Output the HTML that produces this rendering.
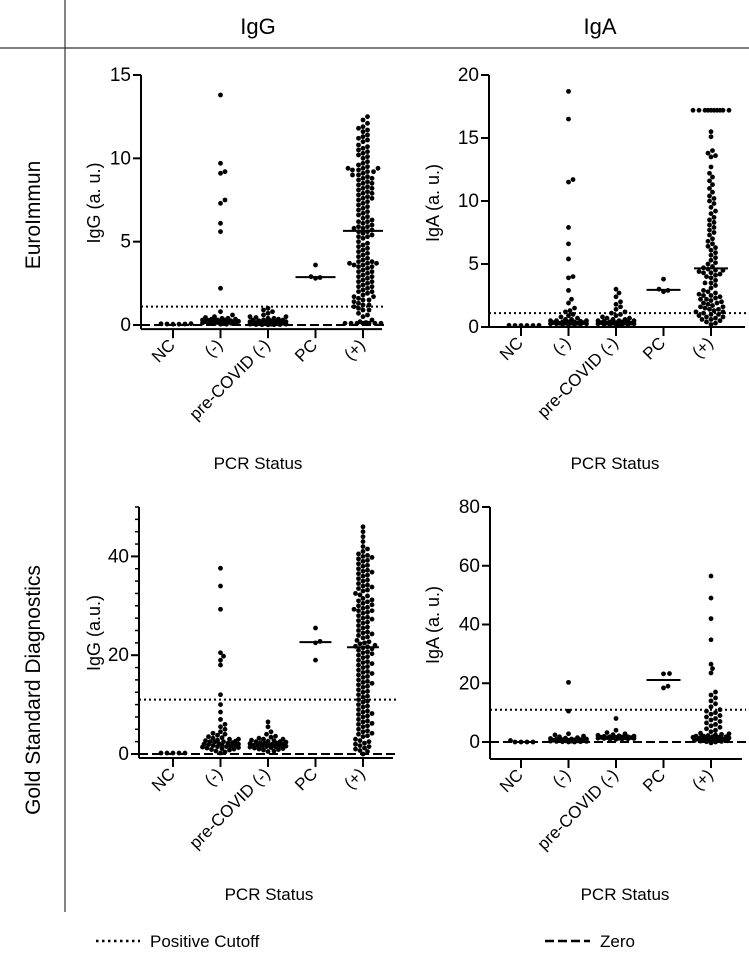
<!DOCTYPE html>
<html><head><meta charset="utf-8">
<style>
html,body{margin:0;padding:0;background:#fff;}
svg{display:block;font-family:"Liberation Sans",sans-serif;}
</style></head>
<body>
<svg id="fig" width="749" height="960" viewBox="0 0 749 960">
  <line x1="65" y1="0" x2="65" y2="912" stroke="#333" stroke-width="1.2"/>
  <line x1="0" y1="48" x2="749" y2="48" stroke="#333" stroke-width="1.2"/>
  <text x="258" y="34" font-size="22" text-anchor="middle">IgG</text>
  <text x="600" y="34" font-size="22" text-anchor="middle">IgA</text>
  <text transform="translate(40,215) rotate(-90)" font-size="21" text-anchor="middle">EuroImmun</text>
  <text transform="translate(40,690) rotate(-90)" font-size="21" text-anchor="middle">Gold Standard Diagnostics</text>
  <g>
    <line x1="96" y1="941" x2="140" y2="941" stroke="#000" stroke-width="2.5" stroke-dasharray="2.5,3.5"/>
    <text x="150" y="947" font-size="17">Positive Cutoff</text>
    <line x1="545" y1="941" x2="590" y2="941" stroke="#000" stroke-width="2.5" stroke-dasharray="9,4"/>
    <text x="600" y="947" font-size="17">Zero</text>
  </g>
</svg>
<script>
const categories = ["NC","(-)","pre-COVID (-)","PC","(+)"];

// Panel A: EuroImmun IgG
const euIgG_NC = [0.05,0.07,0.06,0.08,0.05,0.06];
const euIgG_neg = [13.8,9.7,9.2,9.1,7.5,7.3,6.1,5.6,2.2,0.8,0.6,0.5,0.45,0.4,0.4,0.35,0.35,0.3,0.3,0.3,0.28,0.25,0.25,0.22,0.2,0.2,0.2,0.18,0.15,0.15,0.15,0.12,0.1,0.1,0.1,0.08,0.05,0.05];
const euIgG_pre = [1.0,0.9,0.8,0.7,0.6,0.5,0.5,0.45,0.4,0.4,0.35,0.3,0.3,0.3,0.25,0.25,0.2,0.2,0.2,0.2,0.15,0.15,0.15,0.12,0.1,0.1,0.1,0.1,0.08,0.08,0.05,0.05,0.05,0.03,0.03,0.02,0.02,0.01];
const euIgG_PC = [2.8,2.85,2.9,3.6];
const euIgG_pos = [12.5,12.3,12.1,11.9,11.8,11.6,11.4,11.3,11.1,11.0,10.8,10.7,10.5,10.4,10.3,10.1,10.0,9.8,9.7,9.5,9.4,9.4,9.3,9.2,9.1,9.0,8.9,8.8,8.7,8.6,8.5,8.4,8.3,8.2,8.1,8.0,7.9,7.8,7.7,7.6,7.5,7.4,7.3,7.2,7.0,6.9,6.8,6.6,6.5,6.4,6.3,6.2,6.1,6.0,5.9,5.8,5.8,5.7,5.6,5.5,5.4,5.3,5.2,5.0,4.9,4.8,4.6,4.5,4.4,4.2,4.1,4.0,3.9,3.8,3.7,3.7,3.6,3.5,3.4,3.3,3.2,3.1,3.0,2.9,2.8,2.7,2.6,2.5,2.4,2.3,2.2,2.1,2.0,1.9,1.8,1.7,1.6,1.5,1.4,1.3,1.2,1.1,1.0,0.9,0.7,0.5,0.3,0.2,0.15,0.1,0.1,0.1,0.1,0.1,0.1,0.1,
  11.7,11.2,10.6,10.2,9.6,9.3,9.0,8.8,8.5,8.2,7.9,7.6,7.1,6.7,6.2,5.9,5.6,5.3,4.7,4.3,3.8,3.5,3.2,2.9,2.6,2.3,2.0,1.7,1.5,1.2,0.9,0.6,3.7,3.6,9.4,9.2];

// Panel B: EuroImmun IgA
const euIgA_NC = [0.12,0.12,0.13,0.12,0.12,0.13];
const euIgA_neg = [18.7,16.5,11.7,11.5,7.9,6.6,5.4,4.0,3.9,2.9,2.2,1.9,1.5,1.3,1.2,1.0,0.9,0.8,0.7,0.6,0.6,0.5,0.5,0.5,0.45,0.4,0.4,0.4,0.35,0.35,0.3,0.3,0.3,0.3,0.25,0.25,0.25,0.2,0.2,0.2,0.2];
const euIgA_pre = [3.0,2.7,2.4,2.0,1.8,1.6,1.4,1.2,1.1,1.0,0.9,0.8,0.7,0.7,0.6,0.6,0.5,0.5,0.5,0.45,0.4,0.4,0.4,0.35,0.35,0.3,0.3,0.3,0.3,0.25,0.25,0.25,0.2,0.2,0.2,0.2,0.15];
const euIgA_PC = [2.8,2.9,3.0,3.8];
const euIgA_pos = [17.2,17.2,17.2,17.2,17.2,17.2,17.2,17.2,17.2,17.2,15.5,15.1,14.0,13.8,13.6,13.5,12.7,12.2,11.9,11.6,11.3,11.0,10.7,10.4,10.2,10.0,9.8,9.5,9.2,9.0,8.7,8.5,8.3,8.1,7.9,7.7,7.5,7.3,7.0,6.8,6.6,6.4,6.3,6.1,5.9,5.7,5.5,5.3,5.1,5.0,4.8,4.7,4.6,4.5,4.4,4.3,4.2,4.1,4.0,3.9,3.7,3.5,3.3,3.1,2.9,2.8,2.7,2.6,2.5,2.4,2.3,2.2,2.1,2.0,1.9,1.8,1.7,1.6,1.5,1.4,1.3,1.2,1.1,1.0,0.9,0.8,0.7,0.6,0.5,0.4,0.3,0.2,1.6,1.4,1.2,1.0,0.8,0.6,2.5,2.2,1.9,3.5,4.3,4.5];

// Panel C: GSD IgG
const gsIgG_NC = [0.2,0.2,0.2,0.2,0.2];
const gsIgG_neg = [37.6,34.0,29.3,20.5,19.8,19.0,18.0,12.0,10.0,8.5,7.0,6.0,5.5,5.0,4.5,4.2,4.0,3.8,3.5,3.3,3.2,3.0,3.0,2.8,2.7,2.6,2.5,2.5,2.4,2.3,2.2,2.1,2.0,2.0,1.9,1.8,1.8,1.7,1.6,1.5,1.5,1.4,1.3,1.2,1.1,1.0,0.9,0.8,0.6,0.4,0.2];
const gsIgG_pre = [6.5,5.5,4.5,4.0,3.6,3.4,3.2,3.0,3.0,2.8,2.7,2.6,2.5,2.5,2.4,2.3,2.2,2.2,2.1,2.0,2.0,1.9,1.8,1.8,1.7,1.6,1.6,1.5,1.5,1.4,1.3,1.2,1.1,1.0,0.9,0.8,0.6,0.5];
const gsIgG_PC = [25.5,22.8,22.5,19.0];
const gsIgG_pos = [46,45,44,43,42,41.5,41,40.5,40,39.5,39,38.5,38,37.5,37,36.5,36,35.5,35,34.5,34,33.5,33,32.5,32,31.5,31,30.5,30,29.5,29,29,28.5,28,27.5,27,26.5,26,25.5,25,24.5,24,23.5,23,22.5,22,21.5,21.3,21,20.5,20,19.5,19,18.5,18,17.5,17,16.5,16,15.5,15,14.5,14,13.5,13,12.5,12,11.5,11,10.5,10,9.5,9,8.5,8,7.5,7,6.5,6,5.5,5,4.5,4,3.5,3,2.5,2,1.5,1,0.5,0,
  40.2,39.2,38.2,37.2,36.2,35.2,34.2,33.2,32.2,31.2,30.2,29.7,28.7,27.7,26.7,25.7,24.7,23.7,22.7,21.7,20.7,19.7,18.7,17.7,16.7,15.7,14.7,13.7,12.7,11.7,10.7,9.7,8.7,7.7,6.7,5.7,4.7,3.7,2.7,1.7,0.7,
  39.8,36.8,33.8,30.8,29.3,27.3,24.3,22.3,21.8,20.3,18.3,16.3,14.3,8.2,6.2,4.2,2.2,1.2];

// Panel D: GSD IgA
const gsIgA_NC = [0.0,0.5,0.0,0.0,0.0];
const gsIgA_neg = [20.3,10.5,2.8,2.4,2.0,1.8,1.5,1.3,1.2,1.0,1.0,0.9,0.8,0.8,0.7,0.6,0.6,0.5,0.5,0.4,0.4,0.3,0.3,0.2,0.2,0.1,0.1,0.0,0.0];
const gsIgA_pre = [8.0,4.0,3.2,2.8,2.5,2.3,2.1,2.0,1.9,1.8,1.8,1.7,1.6,1.6,1.5,1.5,1.4,1.4,1.3,1.3,1.2,1.2,1.1,1.0,1.0,0.9];
const gsIgA_PC = [23.2,23.3,18.4,19.0];
const gsIgA_pos = [56.5,49.0,42.0,34.8,26.5,25.0,23.5,17.0,16.0,15.0,14.0,13.0,12.0,11.0,10.5,10.0,9.5,9.0,8.5,8.0,7.5,7.0,6.5,6.0,5.5,5.0,4.5,4.0,3.5,3.0,2.8,2.6,2.4,2.2,2.0,2.0,1.8,1.8,1.6,1.6,1.5,1.4,1.3,1.2,1.1,1.0,1.0,0.9,0.8,0.7,0.6,0.5,0.4,0.3,0.2,0.1,0.0,-0.3];

const euIgG_ticks = [0,5,10,15];
const euIgA_ticks = [0,5,10,15,20];
const gsIgG_ticks = [0,20,40];
const gsIgA_ticks = [0,20,40,60,80];

const NS = "http://www.w3.org/2000/svg";
const svg = document.getElementById("fig");
function mk(tag, attrs, parent){
  const e = document.createElementNS(NS, tag);
  for (const k in attrs) e.setAttribute(k, attrs[k]);
  (parent||svg).appendChild(e);
  return e;
}
function median(a){const s=[...a].sort((p,q)=>p-q);const n=s.length;return n%2?s[(n-1)/2]:(s[n/2-1]+s[n/2])/2;}

function panel(cfg){
  const g = mk("g",{});
  
  
  const y = v => cfg.y0 - v * (cfg.y0 - cfg.yTop) / cfg.yMax;
  const catX = i => cfg.cx0 + i * cfg.dx;
  const axisY = y(cfg.yMin);
  const ya = mk("line",{x1:cfg.ax,y1:y(cfg.yMax),x2:cfg.ax,y2:axisY,stroke:"#000","stroke-width":2},g);
  
  
  if (cfg.minor){
    for (let v=cfg.minor; v<=cfg.yMax; v+=cfg.minor){
      const t = mk("line",{x1:cfg.ax-4,y1:y(v),x2:cfg.ax,y2:y(v),stroke:"#000","stroke-width":1.5},g);
      
      
    }
  }
  cfg.ticks.forEach(v=>{
    const t = mk("line",{x1:cfg.ax-8,y1:y(v),x2:cfg.ax,y2:y(v),stroke:"#000","stroke-width":2},g);
    
    
    const tl = mk("text",{x:cfg.ax-10,y:y(v)+6,"font-size":cfg.tickFont,"text-anchor":"end"},g);
    tl.textContent = v;
    
    
  });
  const xa = mk("line",{x1:cfg.ax,y1:axisY,x2:cfg.axEnd,y2:axisY,stroke:"#000","stroke-width":2},g);
  
  
  categories.forEach((c,i)=>{
    const x = catX(i);
    const t = mk("line",{x1:x,y1:axisY,x2:x,y2:axisY+9,stroke:"#000","stroke-width":2},g);
    
    
    const tl = mk("text",{transform:`translate(${x+3},${axisY+17}) rotate(-45)`,"font-size":17,"text-anchor":"end"},g);
    tl.textContent = c;
    
    
  });
  const zl = mk("line",{x1:cfg.ax,y1:y(0),x2:cfg.axEnd+4,y2:y(0),stroke:"#000","stroke-width":2,"stroke-dasharray":"9,4"},g);
  
  
  const cl = mk("line",{x1:cfg.ax,y1:y(cfg.cutoff),x2:cfg.axEnd+4,y2:y(cfg.cutoff),stroke:"#000","stroke-width":2,"stroke-dasharray":"2,3"},g);
  
  
  const r = 2.4, maxW = 18;
  cfg.groups.forEach((vals,i)=>{
    const cx = catX(i);
    const sorted = [...vals].sort((a,b)=>a-b);
    const placed = [];
    sorted.forEach(v=>{
      const py = y(v);
      let best = cx, bestD = -1;
      for (let k=0;k<=2*Math.floor(maxW/1.5);k++){
        const off = (k%2? 1:-1) * Math.ceil(k/2) * 1.5;
        const tx = cx + off;
        let md = Infinity;
        placed.forEach(p=>{ const d=(p[0]-tx)**2+(p[1]-py)**2; if(d<md) md=d; });
        if (md >= (2*r*0.95)**2){ best = tx; break; }
        if (md > bestD){ bestD = md; best = tx; }
      }
      placed.push([best,py]);
      const d = mk("circle",{cx:best,cy:py,r:r,fill:"#000"},g);
      
      
    });
    if (cfg.medianGroups.includes(i)){
      const m = median(vals);
      const ml = mk("line",{x1:cx-cfg.mw,y1:y(m),x2:cx+cfg.mw,y2:y(m),stroke:"#000","stroke-width":2},g);
      
      
    }
  });
  const yt = mk("text",{transform:`translate(${cfg.ytx},${cfg.yty}) rotate(-90)`,"font-size":18,"text-anchor":"middle"},g);
  yt.textContent = cfg.ytitle;
  
  
  const xt = mk("text",{x:cfg.xtx,y:cfg.xty,"font-size":17,"text-anchor":"middle"},g);
  xt.textContent = "PCR Status";
  
  
}

panel({name:"euroimmun-igg-panel",ax:141,axEnd:382,y0:325,yTop:75,yMax:15,yMin:-0.25,ticks:euIgG_ticks,cutoff:1.1,
  cx0:173,dx:47.5,groups:[euIgG_NC,euIgG_neg,euIgG_pre,euIgG_PC,euIgG_pos],medianGroups:[3,4],mw:20,
  ytx:100,yty:203,ytitle:"IgG (a. u.)",xtx:258,xty:469,tickFont:19});
panel({name:"euroimmun-iga-panel",ax:489,axEnd:742,y0:327,yTop:75,yMax:20,yMin:0,ticks:euIgA_ticks,cutoff:1.1,
  cx0:521,dx:47.5,groups:[euIgA_NC,euIgA_neg,euIgA_pre,euIgA_PC,euIgA_pos],medianGroups:[3,4],mw:17,
  ytx:439,yty:203,ytitle:"IgA (a. u.)",xtx:615,xty:469,tickFont:19});
panel({name:"gsd-igg-panel",ax:139,axEnd:393,y0:754,yTop:507,yMax:50,yMin:-0.8,ticks:gsIgG_ticks,cutoff:11,minor:2.5,
  cx0:173,dx:47.5,groups:[gsIgG_NC,gsIgG_neg,gsIgG_pre,gsIgG_PC,gsIgG_pos],medianGroups:[3,4],mw:16,
  ytx:100,yty:633,ytitle:"IgG (a.u.)",xtx:269,xty:900,tickFont:19});
panel({name:"gsd-iga-panel",ax:490,axEnd:742,y0:742,yTop:507,yMax:80,yMin:-5.8,ticks:gsIgA_ticks,cutoff:11,
  cx0:521,dx:47.5,groups:[gsIgA_NC,gsIgA_neg,gsIgA_pre,gsIgA_PC,gsIgA_pos],medianGroups:[3],mw:17,
  ytx:439,yty:625,ytitle:"IgA (a. u.)",xtx:625,xty:900,tickFont:19});
</script>
</body></html>
